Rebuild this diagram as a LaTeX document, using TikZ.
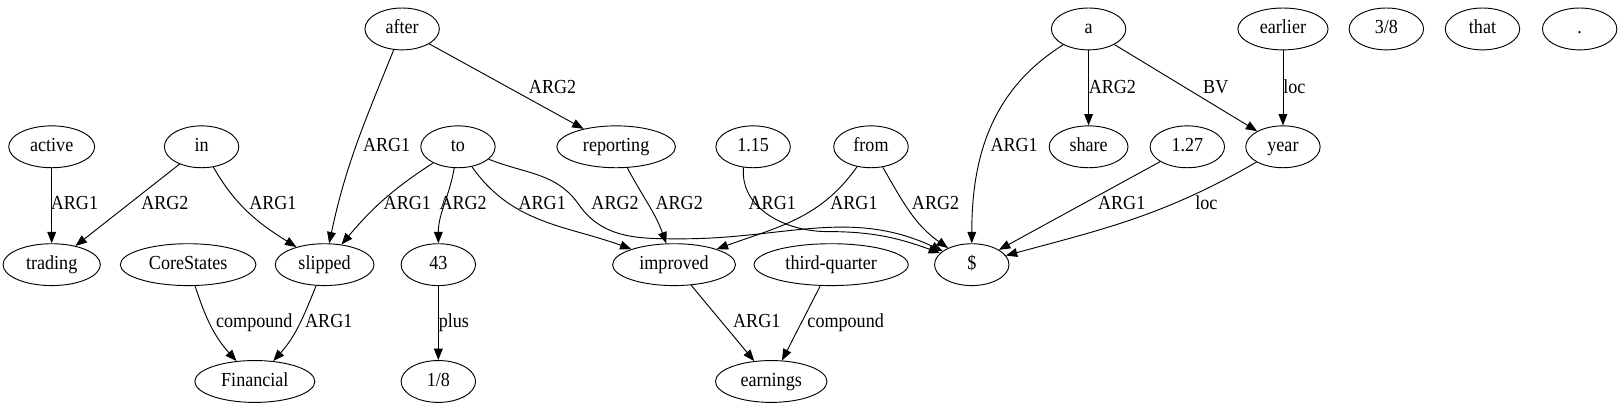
\documentclass[tikz,border=0pt]{standalone}
\usepackage{fontspec}
\setmainfont{Liberation Serif}
\usetikzlibrary{arrows.meta,shapes.geometric}
\newcommand\vstr[1]{\scalebox{1}[1.1]{#1}}
\begin{document}
\begin{tikzpicture}[x=1pt,y=1pt,
  nd/.style={draw,ellipse,line width=0.9pt,minimum width=72pt,minimum height=40.5pt,inner xsep=8.5pt,inner ysep=1pt,text height=13pt,text depth=4pt,font=\fontsize{17.5}{20}\selectfont},
  lbl/.style={inner sep=0pt,text height=13pt,text depth=4pt,font=\fontsize{17.5}{20}\selectfont},
  edge/.style={line width=0.9pt,-{Triangle[length=11pt,width=8.5pt]}}]
\fill[white] (0,0) rectangle (1568,-398);
\useasboundingbox (0,0) rectangle (1568,-398);
% nodes
\node[nd] (active) at (50,-142) {\vstr{active}};
\node[nd] (trading) at (50,-256) {\vstr{trading}};
\node[nd] (in) at (195,-142) {\vstr{in}};
\node[nd] (CoreStates) at (182,-256) {\vstr{CoreStates}};
\node[nd] (after) at (389,-28) {\vstr{after}};
\node[nd] (to) at (443,-142) {\vstr{to}};
\node[nd] (slipped) at (314,-256) {\vstr{slipped}};
\node[nd] (n43) at (424,-256) {\vstr{43}};
\node[nd] (Financial) at (246.5,-369) {\vstr{Financial}};
\node[nd] (n18) at (424,-369) {\vstr{1/8}};
\node[nd] (reporting) at (596,-142) {\vstr{reporting}};
\node[nd] (n115) at (728.5,-142) {\vstr{1.15}};
\node[nd] (from) at (842.5,-142) {\vstr{from}};
\node[nd] (improved) at (652,-256) {\vstr{improved}};
\node[nd] (thirdq) at (804,-256) {\vstr{third-quarter}};
\node[nd] (dollar) at (940,-256) {\vstr{\$}};
\node[nd] (earnings) at (746,-369) {\vstr{earnings}};
\node[nd] (a) at (1053,-28) {\vstr{a}};
\node[nd] (share) at (1053,-142) {\vstr{share}};
\node[nd] (n127) at (1148.5,-142) {\vstr{1.27}};
\node[nd] (year) at (1241,-142) {\vstr{year}};
\node[nd] (earlier) at (1241,-28) {\vstr{earlier}};
\node[nd] (n38) at (1341,-28) {\vstr{3/8}};
\node[nd] (that) at (1434,-28) {\vstr{that}};
\node[nd] (dot) at (1528,-28) {\vstr{.}};
% coordinates for routed edges
\coordinate (toA) at (560,-198);
\coordinate (toB) at (660,-231);
\coordinate (fA) at (800,-224);
% edges
\draw[edge] (active) -- (trading);
\draw[edge] (in) -- (trading);
\draw[edge] (in) to[out=-60,in=148] (slipped);
\draw[edge] (after) to[out=-112,in=78] (slipped);
\draw[edge] (after) -- (reporting);
\draw[edge] (to) to[out=-147,in=50] (slipped);
\draw[edge] (to) to[out=-100,in=90] (n43);
\draw[edge] (to) to[out=-55,in=160] (improved);
\draw[edge] (to) to[out=-22,in=125] (toA) to[out=-55,in=180] (toB) to[out=0,in=155] (dollar);
\draw[edge] (reporting) to[out=-62,in=110] (improved);
\draw[edge] (n115.-115) to[out=-95,in=180] (fA) to[out=0,in=160] (dollar);
\draw[edge] (from) to[out=-125,in=20] (improved);
\draw[edge] (from) to[out=-60,in=145] (dollar);
\draw[edge] (a) to[out=-148,in=90] (dollar);
\draw[edge] (a) -- (share);
\draw[edge] (a) -- (year);
\draw[edge] (earlier) -- (year);
\draw[edge] (n127) -- (dollar);
\draw[edge] (year) to[out=-150,in=15] (dollar);
\draw[edge] (n43) -- (n18);
\draw[edge] (CoreStates) to[out=-72,in=132] (Financial);
\draw[edge] (slipped) to[out=-112,in=48] (Financial);
\draw[edge] (improved) -- (earnings);
\draw[edge] (thirdq) -- (earnings);
% edge labels
\node[lbl] (l1) at (72,-198) {\vstr{ARG1}};
\node[lbl] (l2) at (159.5,-198) {\vstr{ARG2}};
\node[lbl] (l3) at (264,-198) {\vstr{ARG1}};
\node[lbl] (l4) at (374,-142) {\vstr{ARG1}};
\node[lbl] (l5) at (534.5,-85.5) {\vstr{ARG2}};
\node[lbl] (l6) at (394,-198) {\vstr{ARG1}};
\node[lbl] (l7) at (448,-198) {\vstr{ARG2}};
\node[lbl] (l8) at (524.5,-198) {\vstr{ARG1}};
\node[lbl] (l9) at (595,-198) {\vstr{ARG2}};
\node[lbl] (l10) at (657,-198) {\vstr{ARG2}};
\node[lbl] (l11) at (747,-198) {\vstr{ARG1}};
\node[lbl] (l12) at (826,-198) {\vstr{ARG1}};
\node[lbl] (l13) at (905,-198) {\vstr{ARG2}};
\node[lbl] (l14) at (981,-142) {\vstr{ARG1}};
\node[lbl] (l15) at (1076,-85.5) {\vstr{ARG2}};
\node[lbl] (l16) at (1176,-85.5) {\vstr{BV}};
\node[lbl] (l17) at (1252,-85.5) {\vstr{loc}};
\node[lbl] (l18) at (1085,-198) {\vstr{ARG1}};
\node[lbl] (l19) at (1167,-198) {\vstr{loc}};
\node[lbl] (l20) at (439,-312) {\vstr{plus}};
\node[lbl] (l21) at (246,-312) {\vstr{compound}};
\node[lbl] (l22) at (318,-312) {\vstr{ARG1}};
\node[lbl] (l23) at (732,-312) {\vstr{ARG1}};
\node[lbl] (l24) at (818,-312) {\vstr{compound}};
\end{tikzpicture}
\end{document}
